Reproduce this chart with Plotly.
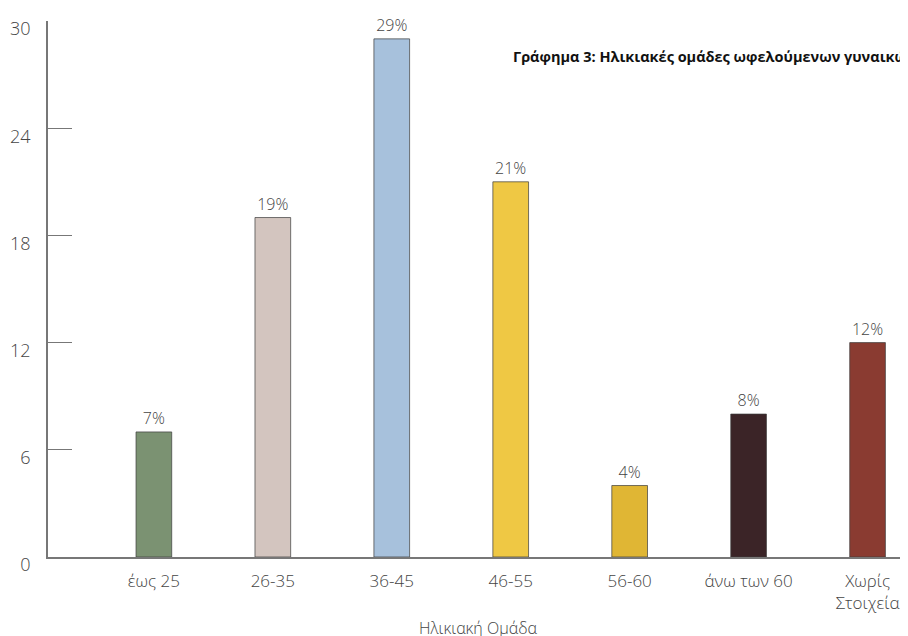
import plotly.graph_objects as go

categories = ["έως 25", "26-35", "36-45", "46-55", "56-60", "άνω των 60", "Χωρίς<br>Στοιχεία"]
values = [7, 19, 29, 21, 4, 8, 12]
labels = ["7%", "19%", "29%", "21%", "4%", "8%", "12%"]
colors = ["#7b9272", "#d3c5bf", "#a7c1dc", "#efc844", "#e0b634", "#3b2427", "#8a3b31"]
y_ticks = [0, 6, 12, 18, 24, 30]
title_text = "Γράφημα 3: Ηλικιακές ομάδες ωφελούμενων γυναικών"
x_title = "Ηλικιακή Ομάδα"

font_family = "Open Sans, Lato, sans-serif"

fig = go.Figure(go.Bar(
    x=categories,
    y=values,
    text=labels,
    textposition="outside",
    textfont=dict(family=font_family, size=16, color="#444444", weight=300),
    marker=dict(color=colors, line=dict(color="rgba(60,60,60,0.7)", width=1)),
    width=0.30,
    cliponaxis=False,
))

# page body has an 8px margin; the figure is sized/offset to compensate
fig.update_layout(
    width=900, height=628,
    margin=dict(l=40, r=0, t=13, b=79),
    paper_bgcolor="white", plot_bgcolor="white",
    showlegend=False,
    font=dict(family=font_family, color="#444444"),
    xaxis=dict(
        type="category",
        range=[-0.89, 6.34],
        automargin=False,
        showgrid=False,
        showline=True, linecolor="#777777", linewidth=1.5,
        ticks="",
        tickfont=dict(size=17, color="#444444", weight=300),
        ticklabelstandoff=8,
    ),
    yaxis=dict(
        range=[0, 30],
        automargin=False,
        tickvals=y_ticks,
        showgrid=False, zeroline=False,
        showline=True, linecolor="#777777", linewidth=1.5,
        ticks="inside", ticklen=24, tickcolor="#777777", tickwidth=1,
        tickfont=dict(size=18, color="#444444", weight=300),
        ticklabelshift=8,
        ticklabelstandoff=12,
    ),
    annotations=[
        dict(text="<b>" + title_text + "</b>", xref="paper", yref="paper",
             x=0.538, y=0.933, xanchor="left", yanchor="middle", showarrow=False,
             font=dict(family=font_family, size=14.5, color="#111111")),
        dict(text=x_title, xref="paper", yref="paper",
             x=0.5, y=-0.1325, xanchor="center", yanchor="middle", showarrow=False,
             font=dict(family=font_family, size=16, color="#444444", weight=300)),
    ],
)

fig.write_html("out.html")
